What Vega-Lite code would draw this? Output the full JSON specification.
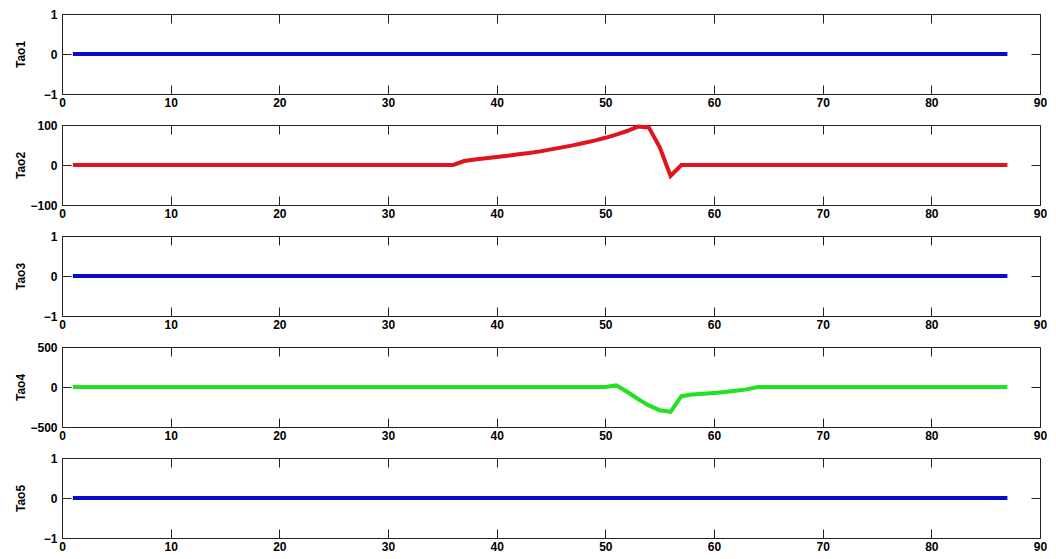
{
  "$schema": "https://vega.github.io/schema/vega-lite/v6.json",
  "background": "white",
  "padding": {"left": 14, "top": 8, "right": 0, "bottom": 0},
  "spacing": 31,
  "bounds": "flush",
  "config": {
    "view": {"stroke": null},
    "axis": {
      "grid": false,
      "domainColor": "#222222",
      "tickColor": "#222222",
      "tickSize": -9,
      "labelFont": "Liberation Sans",
      "labelFontWeight": "bold",
      "labelFontSize": 12,
      "labelColor": "#000000",
      "labelFlush": false,
      "labelOverlap": false,
      "labelPadding": 12,
      "format": "d",
      "titleFont": "Liberation Sans",
      "titleFontWeight": "bold",
      "titleFontSize": 12,
      "titleColor": "#000000"
    },
    "axisY": {"labelPadding": 14}
  },
  "data": {"values": [
    {"t":1,"Tao1":0,"Tao2":0,"Tao3":0,"Tao4":0,"Tao5":0},
    {"t":2,"Tao1":0,"Tao2":0,"Tao3":0,"Tao4":0,"Tao5":0},
    {"t":3,"Tao1":0,"Tao2":0,"Tao3":0,"Tao4":0,"Tao5":0},
    {"t":4,"Tao1":0,"Tao2":0,"Tao3":0,"Tao4":0,"Tao5":0},
    {"t":5,"Tao1":0,"Tao2":0,"Tao3":0,"Tao4":0,"Tao5":0},
    {"t":6,"Tao1":0,"Tao2":0,"Tao3":0,"Tao4":0,"Tao5":0},
    {"t":7,"Tao1":0,"Tao2":0,"Tao3":0,"Tao4":0,"Tao5":0},
    {"t":8,"Tao1":0,"Tao2":0,"Tao3":0,"Tao4":0,"Tao5":0},
    {"t":9,"Tao1":0,"Tao2":0,"Tao3":0,"Tao4":0,"Tao5":0},
    {"t":10,"Tao1":0,"Tao2":0,"Tao3":0,"Tao4":0,"Tao5":0},
    {"t":11,"Tao1":0,"Tao2":0,"Tao3":0,"Tao4":0,"Tao5":0},
    {"t":12,"Tao1":0,"Tao2":0,"Tao3":0,"Tao4":0,"Tao5":0},
    {"t":13,"Tao1":0,"Tao2":0,"Tao3":0,"Tao4":0,"Tao5":0},
    {"t":14,"Tao1":0,"Tao2":0,"Tao3":0,"Tao4":0,"Tao5":0},
    {"t":15,"Tao1":0,"Tao2":0,"Tao3":0,"Tao4":0,"Tao5":0},
    {"t":16,"Tao1":0,"Tao2":0,"Tao3":0,"Tao4":0,"Tao5":0},
    {"t":17,"Tao1":0,"Tao2":0,"Tao3":0,"Tao4":0,"Tao5":0},
    {"t":18,"Tao1":0,"Tao2":0,"Tao3":0,"Tao4":0,"Tao5":0},
    {"t":19,"Tao1":0,"Tao2":0,"Tao3":0,"Tao4":0,"Tao5":0},
    {"t":20,"Tao1":0,"Tao2":0,"Tao3":0,"Tao4":0,"Tao5":0},
    {"t":21,"Tao1":0,"Tao2":0,"Tao3":0,"Tao4":0,"Tao5":0},
    {"t":22,"Tao1":0,"Tao2":0,"Tao3":0,"Tao4":0,"Tao5":0},
    {"t":23,"Tao1":0,"Tao2":0,"Tao3":0,"Tao4":0,"Tao5":0},
    {"t":24,"Tao1":0,"Tao2":0,"Tao3":0,"Tao4":0,"Tao5":0},
    {"t":25,"Tao1":0,"Tao2":0,"Tao3":0,"Tao4":0,"Tao5":0},
    {"t":26,"Tao1":0,"Tao2":0,"Tao3":0,"Tao4":0,"Tao5":0},
    {"t":27,"Tao1":0,"Tao2":0,"Tao3":0,"Tao4":0,"Tao5":0},
    {"t":28,"Tao1":0,"Tao2":0,"Tao3":0,"Tao4":0,"Tao5":0},
    {"t":29,"Tao1":0,"Tao2":0,"Tao3":0,"Tao4":0,"Tao5":0},
    {"t":30,"Tao1":0,"Tao2":0,"Tao3":0,"Tao4":0,"Tao5":0},
    {"t":31,"Tao1":0,"Tao2":0,"Tao3":0,"Tao4":0,"Tao5":0},
    {"t":32,"Tao1":0,"Tao2":0,"Tao3":0,"Tao4":0,"Tao5":0},
    {"t":33,"Tao1":0,"Tao2":0,"Tao3":0,"Tao4":0,"Tao5":0},
    {"t":34,"Tao1":0,"Tao2":0,"Tao3":0,"Tao4":0,"Tao5":0},
    {"t":35,"Tao1":0,"Tao2":0,"Tao3":0,"Tao4":0,"Tao5":0},
    {"t":36,"Tao1":0,"Tao2":0,"Tao3":0,"Tao4":0,"Tao5":0},
    {"t":37,"Tao1":0,"Tao2":10,"Tao3":0,"Tao4":0,"Tao5":0},
    {"t":38,"Tao1":0,"Tao2":14,"Tao3":0,"Tao4":0,"Tao5":0},
    {"t":39,"Tao1":0,"Tao2":17,"Tao3":0,"Tao4":0,"Tao5":0},
    {"t":40,"Tao1":0,"Tao2":20,"Tao3":0,"Tao4":0,"Tao5":0},
    {"t":41,"Tao1":0,"Tao2":23,"Tao3":0,"Tao4":0,"Tao5":0},
    {"t":42,"Tao1":0,"Tao2":27,"Tao3":0,"Tao4":0,"Tao5":0},
    {"t":43,"Tao1":0,"Tao2":30,"Tao3":0,"Tao4":0,"Tao5":0},
    {"t":44,"Tao1":0,"Tao2":34,"Tao3":0,"Tao4":0,"Tao5":0},
    {"t":45,"Tao1":0,"Tao2":39,"Tao3":0,"Tao4":0,"Tao5":0},
    {"t":46,"Tao1":0,"Tao2":44,"Tao3":0,"Tao4":0,"Tao5":0},
    {"t":47,"Tao1":0,"Tao2":49,"Tao3":0,"Tao4":0,"Tao5":0},
    {"t":48,"Tao1":0,"Tao2":55,"Tao3":0,"Tao4":0,"Tao5":0},
    {"t":49,"Tao1":0,"Tao2":61,"Tao3":0,"Tao4":0,"Tao5":0},
    {"t":50,"Tao1":0,"Tao2":68,"Tao3":0,"Tao4":0,"Tao5":0},
    {"t":51,"Tao1":0,"Tao2":76,"Tao3":0,"Tao4":20,"Tao5":0},
    {"t":52,"Tao1":0,"Tao2":85,"Tao3":0,"Tao4":-60,"Tao5":0},
    {"t":53,"Tao1":0,"Tao2":96,"Tao3":0,"Tao4":-150,"Tao5":0},
    {"t":54,"Tao1":0,"Tao2":94,"Tao3":0,"Tao4":-230,"Tao5":0},
    {"t":55,"Tao1":0,"Tao2":45,"Tao3":0,"Tao4":-290,"Tao5":0},
    {"t":56,"Tao1":0,"Tao2":-27,"Tao3":0,"Tao4":-310,"Tao5":0},
    {"t":57,"Tao1":0,"Tao2":0,"Tao3":0,"Tao4":-115,"Tao5":0},
    {"t":58,"Tao1":0,"Tao2":0,"Tao3":0,"Tao4":-95,"Tao5":0},
    {"t":59,"Tao1":0,"Tao2":0,"Tao3":0,"Tao4":-85,"Tao5":0},
    {"t":60,"Tao1":0,"Tao2":0,"Tao3":0,"Tao4":-75,"Tao5":0},
    {"t":61,"Tao1":0,"Tao2":0,"Tao3":0,"Tao4":-62,"Tao5":0},
    {"t":62,"Tao1":0,"Tao2":0,"Tao3":0,"Tao4":-48,"Tao5":0},
    {"t":63,"Tao1":0,"Tao2":0,"Tao3":0,"Tao4":-30,"Tao5":0},
    {"t":64,"Tao1":0,"Tao2":0,"Tao3":0,"Tao4":0,"Tao5":0},
    {"t":65,"Tao1":0,"Tao2":0,"Tao3":0,"Tao4":0,"Tao5":0},
    {"t":66,"Tao1":0,"Tao2":0,"Tao3":0,"Tao4":0,"Tao5":0},
    {"t":67,"Tao1":0,"Tao2":0,"Tao3":0,"Tao4":0,"Tao5":0},
    {"t":68,"Tao1":0,"Tao2":0,"Tao3":0,"Tao4":0,"Tao5":0},
    {"t":69,"Tao1":0,"Tao2":0,"Tao3":0,"Tao4":0,"Tao5":0},
    {"t":70,"Tao1":0,"Tao2":0,"Tao3":0,"Tao4":0,"Tao5":0},
    {"t":71,"Tao1":0,"Tao2":0,"Tao3":0,"Tao4":0,"Tao5":0},
    {"t":72,"Tao1":0,"Tao2":0,"Tao3":0,"Tao4":0,"Tao5":0},
    {"t":73,"Tao1":0,"Tao2":0,"Tao3":0,"Tao4":0,"Tao5":0},
    {"t":74,"Tao1":0,"Tao2":0,"Tao3":0,"Tao4":0,"Tao5":0},
    {"t":75,"Tao1":0,"Tao2":0,"Tao3":0,"Tao4":0,"Tao5":0},
    {"t":76,"Tao1":0,"Tao2":0,"Tao3":0,"Tao4":0,"Tao5":0},
    {"t":77,"Tao1":0,"Tao2":0,"Tao3":0,"Tao4":0,"Tao5":0},
    {"t":78,"Tao1":0,"Tao2":0,"Tao3":0,"Tao4":0,"Tao5":0},
    {"t":79,"Tao1":0,"Tao2":0,"Tao3":0,"Tao4":0,"Tao5":0},
    {"t":80,"Tao1":0,"Tao2":0,"Tao3":0,"Tao4":0,"Tao5":0},
    {"t":81,"Tao1":0,"Tao2":0,"Tao3":0,"Tao4":0,"Tao5":0},
    {"t":82,"Tao1":0,"Tao2":0,"Tao3":0,"Tao4":0,"Tao5":0},
    {"t":83,"Tao1":0,"Tao2":0,"Tao3":0,"Tao4":0,"Tao5":0},
    {"t":84,"Tao1":0,"Tao2":0,"Tao3":0,"Tao4":0,"Tao5":0},
    {"t":85,"Tao1":0,"Tao2":0,"Tao3":0,"Tao4":0,"Tao5":0},
    {"t":86,"Tao1":0,"Tao2":0,"Tao3":0,"Tao4":0,"Tao5":0},
    {"t":87,"Tao1":0,"Tao2":0,"Tao3":0,"Tao4":0,"Tao5":0}
  ]},
  "vconcat": [
    {
      "width": 978, "height": 80,
      "layer": [
        {"mark": {"type": "line", "color": "#0a0ac8", "strokeWidth": 4},
         "encoding": {
           "x": {"field": "t", "type": "quantitative", "scale": {"domain": [0, 90], "nice": false}, "axis": {"orient": "bottom", "values": [0,10,20,30,40,50,60,70,80,90], "title": null}},
           "y": {"field": "Tao1", "type": "quantitative", "scale": {"domain": [-1, 1], "nice": false}, "axis": {"orient": "left", "values": [-1,0,1], "title": "Tao1", "titleX": -42, "titleY": 40, "titleAngle": 270, "titleAlign": "center", "titleBaseline": "middle"}}
         }},
        {"mark": {"type": "line", "strokeOpacity": 0},
         "encoding": {
           "x": {"field": "t", "type": "quantitative", "axis": {"orient": "top", "values": [0,10,20,30,40,50,60,70,80,90], "labels": false, "title": null}},
           "y": {"field": "Tao1", "type": "quantitative", "axis": {"orient": "right", "values": [-1,0,1], "labels": false, "title": null}}
         }}
      ],
      "resolve": {"axis": {"x": "independent", "y": "independent"}}
    },
    {
      "width": 978, "height": 80,
      "layer": [
        {"mark": {"type": "line", "color": "#e0141a", "strokeWidth": 4},
         "encoding": {
           "x": {"field": "t", "type": "quantitative", "scale": {"domain": [0, 90], "nice": false}, "axis": {"orient": "bottom", "values": [0,10,20,30,40,50,60,70,80,90], "title": null}},
           "y": {"field": "Tao2", "type": "quantitative", "scale": {"domain": [-100, 100], "nice": false}, "axis": {"orient": "left", "values": [-100,0,100], "title": "Tao2", "titleX": -42, "titleY": 40, "titleAngle": 270, "titleAlign": "center", "titleBaseline": "middle"}}
         }},
        {"mark": {"type": "line", "strokeOpacity": 0},
         "encoding": {
           "x": {"field": "t", "type": "quantitative", "axis": {"orient": "top", "values": [0,10,20,30,40,50,60,70,80,90], "labels": false, "title": null}},
           "y": {"field": "Tao2", "type": "quantitative", "axis": {"orient": "right", "values": [-100,0,100], "labels": false, "title": null}}
         }}
      ],
      "resolve": {"axis": {"x": "independent", "y": "independent"}}
    },
    {
      "width": 978, "height": 80,
      "layer": [
        {"mark": {"type": "line", "color": "#0a0ac8", "strokeWidth": 4},
         "encoding": {
           "x": {"field": "t", "type": "quantitative", "scale": {"domain": [0, 90], "nice": false}, "axis": {"orient": "bottom", "values": [0,10,20,30,40,50,60,70,80,90], "title": null}},
           "y": {"field": "Tao3", "type": "quantitative", "scale": {"domain": [-1, 1], "nice": false}, "axis": {"orient": "left", "values": [-1,0,1], "title": "Tao3", "titleX": -42, "titleY": 40, "titleAngle": 270, "titleAlign": "center", "titleBaseline": "middle"}}
         }},
        {"mark": {"type": "line", "strokeOpacity": 0},
         "encoding": {
           "x": {"field": "t", "type": "quantitative", "axis": {"orient": "top", "values": [0,10,20,30,40,50,60,70,80,90], "labels": false, "title": null}},
           "y": {"field": "Tao3", "type": "quantitative", "axis": {"orient": "right", "values": [-1,0,1], "labels": false, "title": null}}
         }}
      ],
      "resolve": {"axis": {"x": "independent", "y": "independent"}}
    },
    {
      "width": 978, "height": 80,
      "layer": [
        {"mark": {"type": "line", "color": "#22e022", "strokeWidth": 4},
         "encoding": {
           "x": {"field": "t", "type": "quantitative", "scale": {"domain": [0, 90], "nice": false}, "axis": {"orient": "bottom", "values": [0,10,20,30,40,50,60,70,80,90], "title": null}},
           "y": {"field": "Tao4", "type": "quantitative", "scale": {"domain": [-500, 500], "nice": false}, "axis": {"orient": "left", "values": [-500,0,500], "title": "Tao4", "titleX": -42, "titleY": 40, "titleAngle": 270, "titleAlign": "center", "titleBaseline": "middle"}}
         }},
        {"mark": {"type": "line", "strokeOpacity": 0},
         "encoding": {
           "x": {"field": "t", "type": "quantitative", "axis": {"orient": "top", "values": [0,10,20,30,40,50,60,70,80,90], "labels": false, "title": null}},
           "y": {"field": "Tao4", "type": "quantitative", "axis": {"orient": "right", "values": [-500,0,500], "labels": false, "title": null}}
         }}
      ],
      "resolve": {"axis": {"x": "independent", "y": "independent"}}
    },
    {
      "width": 978, "height": 80,
      "layer": [
        {"mark": {"type": "line", "color": "#0a0ac8", "strokeWidth": 4},
         "encoding": {
           "x": {"field": "t", "type": "quantitative", "scale": {"domain": [0, 90], "nice": false}, "axis": {"orient": "bottom", "values": [0,10,20,30,40,50,60,70,80,90], "title": null}},
           "y": {"field": "Tao5", "type": "quantitative", "scale": {"domain": [-1, 1], "nice": false}, "axis": {"orient": "left", "values": [-1,0,1], "title": "Tao5", "titleX": -42, "titleY": 40, "titleAngle": 270, "titleAlign": "center", "titleBaseline": "middle"}}
         }},
        {"mark": {"type": "line", "strokeOpacity": 0},
         "encoding": {
           "x": {"field": "t", "type": "quantitative", "axis": {"orient": "top", "values": [0,10,20,30,40,50,60,70,80,90], "labels": false, "title": null}},
           "y": {"field": "Tao5", "type": "quantitative", "axis": {"orient": "right", "values": [-1,0,1], "labels": false, "title": null}}
         }}
      ],
      "resolve": {"axis": {"x": "independent", "y": "independent"}}
    }
  ]
}
